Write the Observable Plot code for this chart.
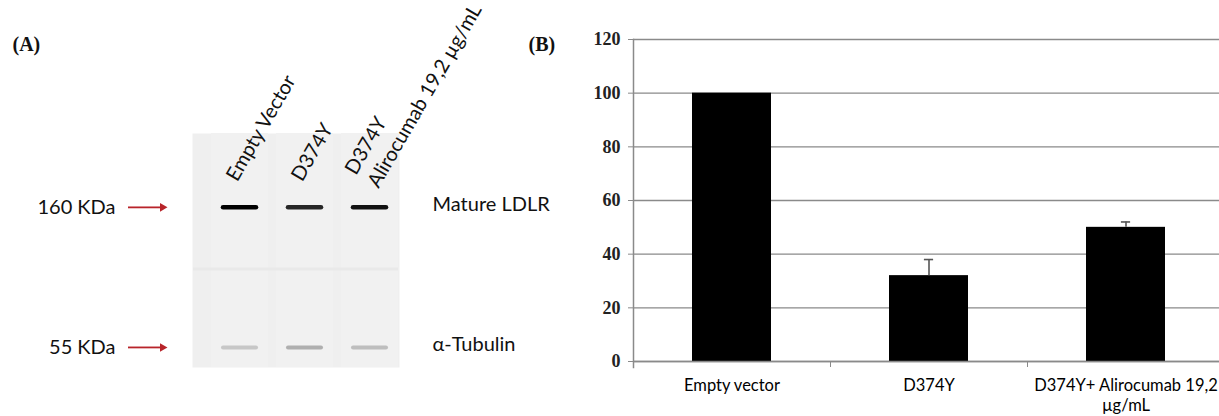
<!DOCTYPE html>
<html>
<head>
<meta charset="utf-8">
<script src="https://cdn.jsdelivr.net/npm/d3@7"></script>
<script src="https://cdn.jsdelivr.net/npm/@observablehq/plot@0.6"></script>
<style>
  html, body { margin: 0; padding: 0; background: #fff; }
  #wrap { position: relative; width: 1219px; height: 416px; overflow: hidden; background: #fff; }
  #wrap svg { position: absolute; top: 0; }
</style>
</head>
<body>
<div id="wrap"></div>
<script>
// ---------- Panel (A): western blot ----------
const lanes = ["Empty Vector", "D374Y", "D374Y + Alirocumab"];
const laneLabels = ["Empty Vector", "D374Y", "D374Y\nAlirocumab 19,2 µg/mL"];
const markerKDa = [160, 55];
const markerProteins = ["Mature LDLR", "α-Tubulin"];
const ldlrIntensity = [1.0, 0.84, 0.93];
const tubulinIntensity = [0.17, 0.27, 0.21];
const gelRangeKDa = [47.2, 281];

// ---------- Panel (B): bar chart ----------
const bCategories = ["Empty vector", "D374Y", "D374Y+ Alirocumab 19,2 µg/mL"];
const bTickLabels = ["Empty vector", "D374Y", "D374Y+ Alirocumab 19,2\nµg/mL"];
const bValues = [100, 32, 50];
const bErrors = [0, 6, 2];
const yTicks = [0, 20, 40, 60, 80, 100, 120];

const markers = markerKDa.map((k, i) => ({kDa: k, protein: markerProteins[i]}));
const blotBands = [
  ...lanes.map((l, i) => ({lane: l, kDa: markerKDa[0], intensity: ldlrIntensity[i], w: 4.5})),
  ...lanes.map((l, i) => ({lane: l, kDa: markerKDa[1], intensity: tubulinIntensity[i], w: 4}))
];
const gelShade = d3.interpolateRgb("#f0f0f0", "#000");
const red = "#b8242a";

const WA = 500;
const plotA = Plot.plot({
  width: WA, height: 416,
  marginLeft: 0, marginRight: 0, marginTop: 0, marginBottom: 0,
  style: {fontFamily: "Lato, 'Open Sans', sans-serif", fontSize: "20px", background: "transparent", overflow: "visible"},
  x: {type: "band", domain: lanes, range: [193, 400], paddingInner: 0.4, paddingOuter: 0.28, align: 0.7, axis: null},
  y: {type: "log", domain: gelRangeKDa, range: [367, 133], axis: null},
  marks: [
    Plot.frame({fill: "#efefef", stroke: null, insetLeft: 192, insetRight: WA - 399, insetTop: 133, insetBottom: 416 - 367}),
    Plot.barY(lanes, {x: d => d, y1: gelRangeKDa[0], y2: gelRangeKDa[1], fill: "#f1f1f1", insetLeft: -9, insetRight: -9}),
    Plot.ruleY([100], {stroke: "#e9e9e9", strokeWidth: 3, insetLeft: 193, insetRight: WA - 398}),
    Plot.tickY(blotBands, {
      x: "lane", y: "kDa",
      stroke: d => gelShade(d.intensity),
      strokeWidth: "w", strokeLinecap: "round",
      insetLeft: 3, insetRight: 3,
      imageFilter: "blur(0.6px)"
    }),
    Plot.text(lanes, {
      x: d => d, y: () => markerKDa[0],
      text: (d, i) => laneLabels[i],
      rotate: -60, textAnchor: "start", lineAnchor: "middle",
      dx: -10, dy: -29, fontSize: 20, lineHeight: 1.3, fill: "#111"
    }),
    Plot.ruleY(markers, {y: "kDa", stroke: red, strokeWidth: 1.8, insetLeft: 128, insetRight: WA - 160}),
    Plot.dot(markers, {y: "kDa", frameAnchor: "left", dx: 162, symbol: "triangle", rotate: 90, r: 3.2, fill: red, stroke: null}),
    Plot.text(markers, {y: "kDa", text: d => `${d.kDa} KDa`, frameAnchor: "left", dx: 115, textAnchor: "end", lineAnchor: "middle", fill: "#111"}),
    Plot.text(markers, {y: "kDa", text: "protein", frameAnchor: "left", dx: 432, dy: -3, textAnchor: "start", lineAnchor: "middle", fill: "#111"}),
    Plot.text(["(A)"], {frameAnchor: "top-left", text: d => d, dx: 12, dy: 44, textAnchor: "start", lineAnchor: "middle",
      fontFamily: "'Liberation Serif', 'Times New Roman', serif", fontWeight: "bold", fontSize: 20, fill: "#111"})
  ]
});
plotA.style.left = "0px";

const barData = bCategories.map((c, i) => ({cat: c, value: bValues[i], err: bErrors[i]}));
const errData = barData.filter(d => d.err > 0);
const OB = 500, WB = 1219 - OB;
const xRange = [633 - OB, 1224 - OB];
const step = (xRange[1] - xRange[0]) / bCategories.length;
const bandwidth = step * 0.4;
const gray = "#8a8a8a";

const plotB = Plot.plot({
  width: WB, height: 416,
  marginLeft: 633 - OB, marginRight: 0, marginTop: 39, marginBottom: 55,
  style: {fontFamily: "Lato, 'Open Sans', sans-serif", fontSize: "16.5px", background: "transparent", overflow: "visible"},
  x: {type: "band", domain: bCategories, range: xRange, paddingInner: 0.6, paddingOuter: 0.3},
  y: {domain: [0, 120]},
  marks: [
    Plot.gridY(yTicks, {stroke: gray, strokeOpacity: 1, strokeWidth: 1.3}),
    Plot.barY(barData, {x: "cat", y: "value", fill: "#000"}),
    Plot.ruleX(errData, {x: "cat", y1: "value", y2: d => d.value + d.err, stroke: "#555", strokeWidth: 1.6}),
    Plot.tickY(errData, {x: "cat", y: d => d.value + d.err, stroke: "#555", strokeWidth: 1.6,
      insetLeft: (bandwidth - 9) / 2, insetRight: (bandwidth - 9) / 2}),
    Plot.ruleY([0], {stroke: gray, strokeWidth: 1.5}),
    Plot.frame({anchor: "left", stroke: gray, strokeWidth: 1.5, insetBottom: -6}),
    Plot.axisY({ticks: yTicks, tickSize: 5, tickPadding: 8, stroke: gray, fill: "#222",
      fontFamily: "'Liberation Serif', 'Times New Roman', serif", fontWeight: "bold", fontSize: 18, label: null}),
    Plot.axisX({tickSize: 6, dx: step / 2, tickFormat: () => "", stroke: gray, label: null}),
    Plot.axisX({tickSize: 0, tickPadding: 15, tickFormat: (d, i) => bTickLabels[i], fill: "#000",
      fontSize: 16.5, lineHeight: 1.22, label: null}),
    Plot.text(["(B)"], {frameAnchor: "top-left", text: d => d, dx: -105, dy: 5, textAnchor: "start", lineAnchor: "middle",
      fontFamily: "'Liberation Serif', 'Times New Roman', serif", fontWeight: "bold", fontSize: 20, fill: "#111"})
  ]
});
plotB.style.left = OB + "px";

const wrap = document.getElementById("wrap");
wrap.appendChild(plotA);
wrap.appendChild(plotB);
</script>
</body>
</html>
